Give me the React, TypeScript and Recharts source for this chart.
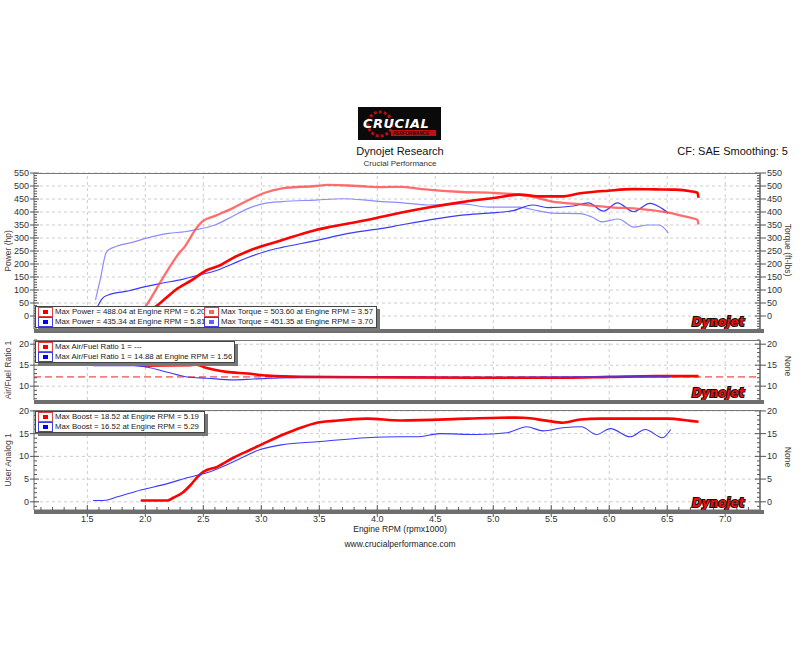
import React from 'react';
import { LineChart, Line, XAxis, YAxis, ReferenceLine } from 'recharts';

const FONT = '"Liberation Sans", Arial, sans-serif';

// engine rpm (x1000) and readings, red = run 1, blue = run 2
const redPowerRpm = [1.97, 2.09, 2.18, 2.26, 2.40, 2.52, 2.65, 2.75, 2.89, 3.03, 3.18, 3.33, 3.47, 3.61, 3.75, 3.90, 4.04, 4.20, 4.44, 4.73, 5.02, 5.22, 5.42, 5.59, 5.75, 5.99, 6.20, 6.40, 6.57, 6.70, 6.76, 6.77];
const redPowerHp = [0, 36, 70, 100, 138, 174, 196, 222, 250, 272, 292, 313, 331, 344, 356, 368, 382, 397, 417, 438, 455, 467, 460, 460, 472, 482, 488, 487, 486, 480, 474, 455];

const redTorqueRpm = [1.95, 2.00, 2.14, 2.29, 2.34, 2.43, 2.49, 2.60, 2.75, 2.89, 3.03, 3.18, 3.47, 3.57, 3.75, 3.90, 4.04, 4.20, 4.39, 4.73, 5.02, 5.30, 5.51, 5.71, 5.99, 6.28, 6.51, 6.68, 6.76, 6.77];
const redTorqueFt = [10, 36, 138, 241, 267, 331, 363, 385, 414, 446, 474, 491, 500, 504, 502, 498, 496, 497, 488, 477, 473, 462, 440, 431, 419, 411, 398, 380, 370, 352];

const bluePowerRpm = [1.57, 1.63, 1.68, 1.86, 2.00, 2.14, 2.32, 2.43, 2.60, 2.75, 2.89, 3.05, 3.18, 3.47, 3.75, 4.04, 4.20, 4.44, 4.73, 4.96, 5.16, 5.34, 5.47, 5.69, 5.82, 5.95, 6.07, 6.21, 6.35, 6.46, 6.51];
const bluePowerHp = [20, 68, 81, 97, 113, 126, 141, 154, 173, 200, 226, 250, 264, 290, 318, 337, 350, 369, 388, 396, 404, 427, 417, 423, 435, 403, 435, 401, 433, 412, 396];

const blueTorqueRpm = [1.57, 1.61, 1.66, 1.68, 1.91, 2.06, 2.20, 2.34, 2.43, 2.60, 2.75, 2.89, 3.03, 3.18, 3.47, 3.70, 3.90, 4.04, 4.20, 4.44, 4.73, 4.96, 5.22, 5.39, 5.51, 5.75, 5.85, 5.94, 6.08, 6.21, 6.33, 6.43, 6.51];
const blueTorqueFt = [62, 138, 241, 254, 286, 305, 318, 324, 331, 350, 383, 414, 433, 440, 446, 451, 446, 440, 436, 427, 431, 419, 419, 404, 396, 394, 381, 362, 373, 342, 350, 350, 319];

const redAfrRpm = [1.96, 2.36, 2.44, 2.53, 2.70, 2.88, 3.05, 3.34, 4.20, 5.00, 5.60, 6.00, 6.40, 6.77];
const redAfr = [14.9, 15.0, 15.1, 14.3, 13.4, 13.0, 12.5, 12.2, 12.1, 12.0, 12.0, 12.2, 12.4, 12.4];
const blueAfrRpm = [1.55, 1.90, 2.02, 2.19, 2.36, 2.53, 2.76, 2.93, 3.10, 3.34, 4.20, 5.00, 5.80, 6.53];
const blueAfr = [14.9, 14.9, 14.5, 13.3, 12.2, 11.9, 11.5, 11.7, 11.9, 12.1, 12.1, 12.1, 12.2, 12.2];
const afrTarget = 12.2;

const redBoostRpm = [1.96, 2.19, 2.24, 2.32, 2.39, 2.45, 2.50, 2.62, 2.76, 2.91, 3.05, 3.19, 3.34, 3.48, 3.62, 3.91, 4.20, 4.78, 5.06, 5.19, 5.26, 5.47, 5.60, 5.75, 5.92, 6.50, 6.70, 6.77];
const redBoost = [0.3, 0.3, 0.9, 2.0, 3.7, 5.5, 6.6, 7.7, 9.7, 11.5, 13.2, 14.8, 16.3, 17.4, 17.8, 18.3, 17.9, 18.3, 18.5, 18.52, 18.5, 17.8, 17.4, 18.1, 18.3, 18.3, 17.8, 17.6];
const blueBoostRpm = [1.55, 1.64, 1.76, 1.96, 2.19, 2.36, 2.53, 2.76, 2.99, 3.19, 3.48, 3.91, 4.20, 4.34, 4.54, 4.86, 5.12, 5.29, 5.43, 5.60, 5.76, 5.89, 6.01, 6.18, 6.31, 6.46, 6.53];
const blueBoost = [0.3, 0.3, 1.1, 2.6, 4.0, 5.3, 6.4, 8.8, 11.5, 12.6, 13.2, 14.1, 14.3, 14.3, 15.0, 14.8, 15.2, 16.5, 15.6, 16.3, 16.5, 14.8, 16.1, 14.3, 15.9, 14.1, 15.9];

const xMajor = [1.5, 2.0, 2.5, 3.0, 3.5, 4.0, 4.5, 5.0, 5.5, 6.0, 6.5, 7.0];
const powerMajor = [0, 50, 100, 150, 200, 250, 300, 350, 400, 450, 500, 550];
const afrMajor = [10, 15, 20];
const boostMajor = [0, 5, 10, 15, 20];

const xDomain = [1.04, 7.3];
const PAD = 7; // room for edge tick labels

const zip = (xs: number[], ys: number[]) => xs.map((rpm, i) => ({ rpm, v: ys[i] }));
const steps = (from: number, to: number, step: number) => {
  const out: number[] = [];
  for (let v = from; v <= to + 1e-9; v += step) out.push(Math.round(v * 100) / 100);
  return out;
};
const isMajor = (v: number, majors: number[]) => majors.some((m) => Math.abs(m - v) < 1e-6);

function LeftTick({ x, y, payload, majors }: any) {
  const v = payload.value;
  const major = isMajor(v, majors);
  return (
    <g>
      <line x1={major ? x - 4 : x} x2={x + (major ? 5 : 3)} y1={y} y2={y} stroke="#555" />
      {major && (
        <text x={x - 5} y={y + 3} textAnchor="end" fontSize={9} fill="#333" fontFamily={FONT}>{v}</text>
      )}
    </g>
  );
}

function RightTick({ x, y, payload, majors }: any) {
  const v = payload.value;
  const major = isMajor(v, majors);
  return (
    <g>
      <line x1={x - (major ? 5 : 3)} x2={major ? x + 6 : x} y1={y} y2={y} stroke="#555" />
      {major && (
        <text x={x + 7} y={y + 3} textAnchor="start" fontSize={9} fill="#333" fontFamily={FONT}>{v}</text>
      )}
    </g>
  );
}

function BottomTick({ x, y, payload }: any) {
  const v = payload.value;
  const major = isMajor(v, xMajor);
  return (
    <g>
      <line x1={x} x2={x} y1={y - (major ? 5 : 3)} y2={major ? y + 7 : y} stroke="#555" />
      {major && (
        <text x={x} y={y + 12} textAnchor="middle" fontSize={9} fill="#333" fontFamily={FONT}>{v.toFixed(1)}</text>
      )}
    </g>
  );
}

type Series = { data: { rpm: number; v: number }[]; color: string; width: number; opacity?: number };

function Panel({ top, plotHeight, domain, ticks, majors, lines, showX, target }: {
  top: number; plotHeight: number; domain: number[]; ticks: number[]; majors: number[];
  lines: Series[]; showX?: boolean; target?: number;
}) {
  const axisH = showX ? 16 : 0;
  const h = plotHeight + axisH + PAD * 2;
  return (
    <>
      <div style={{ position: 'absolute', left: 0, top: top - PAD, width: 800, height: h }}>
        <LineChart width={800} height={h} margin={{ top: PAD, right: 0, bottom: PAD, left: 0 }}>
          {showX ? (
            <XAxis type="number" dataKey="rpm" domain={xDomain} allowDataOverflow height={axisH}
              ticks={steps(1.1, 7.2, 0.1)} interval={0} tickLine={false} tickSize={0} tickMargin={0}
              axisLine={{ stroke: '#777' }} tick={(p: any) => <BottomTick {...p} />} />
          ) : (
            <XAxis type="number" dataKey="rpm" domain={xDomain} allowDataOverflow hide />
          )}
          <YAxis yAxisId="l" type="number" domain={domain} allowDataOverflow width={34} ticks={ticks}
            interval={0} tickLine={false} tickSize={0} tickMargin={0} axisLine={{ stroke: '#666' }}
            tick={(p: any) => <LeftTick {...p} majors={majors} />} />
          <YAxis yAxisId="r" orientation="right" type="number" domain={domain} allowDataOverflow width={40}
            ticks={ticks} interval={0} tickLine={false} tickSize={0} tickMargin={0}
            axisLine={{ stroke: '#888', strokeWidth: 2 }}
            tick={(p: any) => <RightTick {...p} majors={majors} />} />
          {majors.map((m) => (
            <ReferenceLine key={'h' + m} yAxisId="l" y={m} stroke="#cdcdcd" strokeDasharray="3 3" />
          ))}
          {xMajor.map((m) => (
            <ReferenceLine key={'v' + m} yAxisId="l" x={m} stroke="#cdcdcd" strokeDasharray="3 3" />
          ))}
          {target !== undefined && (
            <ReferenceLine yAxisId="l" y={target} stroke="#e82020" strokeDasharray="7 4" />
          )}
          {lines.map((s, i) => (
            <Line key={i} yAxisId="l" data={s.data} dataKey="v" type="monotone" stroke={s.color}
              strokeWidth={s.width} strokeOpacity={s.opacity ?? 1} dot={false} activeDot={false}
              isAnimationActive={false} />
          ))}
        </LineChart>
      </div>
      <div style={{ position: 'absolute', left: 34, top, width: 726, height: 0, borderTop: '1px solid #777' }} />
      <div style={{ position: 'absolute', left: 34, top: top + plotHeight, width: 730, height: 4, background: '#6e6e6e' }} />
      <DynojetMark left={690} top={top + plotHeight - 14} />
    </>
  );
}

function DynojetMark({ left, top }: { left: number; top: number }) {
  return (
    <svg style={{ position: 'absolute', left, top }} width={64} height={14}>
      <text x={2} y={11} fontSize={11.5} fontWeight={900} fontStyle="italic" fontFamily='"DejaVu Sans", sans-serif'
        fill="#e81010" stroke="#111" strokeWidth={2} paintOrder="stroke" letterSpacing={0.3}>Dynojet</text>
    </svg>
  );
}

function Swatch({ color, border }: { color: string; border: string }) {
  return (
    <span style={{ display: 'inline-block', width: 13, height: 8, border: `1px solid ${border}`, position: 'relative', marginRight: 2, verticalAlign: 'middle' }}>
      <span style={{ position: 'absolute', left: 4, top: 2, width: 5, height: 4, background: color }} />
    </span>
  );
}

function LegendBox({ left, top, rows, colWidth }: { left: number; top: number; rows: [string, string, string][][]; colWidth: number[] }) {
  return (
    <div style={{ position: 'absolute', left, top, background: '#fff', border: '1px solid #444', boxShadow: '3px 3px 0 #777', padding: '0 2px', fontFamily: FONT, fontSize: 7.8, color: '#222', lineHeight: '10px' }}>
      {rows.map((row, ri) => (
        <div key={ri} style={{ display: 'flex', height: 10 }}>
          {row.map(([color, border, label], ci) => (
            <div key={ci} style={{ width: colWidth[ci], overflow: 'hidden', whiteSpace: 'nowrap' }}>
              <Swatch color={color} border={border} />{label}
            </div>
          ))}
        </div>
      ))}
    </div>
  );
}

function AxisTitle({ x, y, text, rot }: { x: number; y: number; text: string; rot: number }) {
  return (
    <div style={{ position: 'absolute', left: x, top: y, transform: `translate(-50%, -50%) rotate(${rot}deg)`, whiteSpace: 'nowrap', fontFamily: FONT, fontSize: 8.5, color: '#4a4038' }}>
      {text}
    </div>
  );
}

export default function App() {
  const powerLines: Series[] = [
    { data: zip(blueTorqueRpm, blueTorqueFt), color: '#8c8cff', width: 1.2 },
    { data: zip(bluePowerRpm, bluePowerHp), color: '#3a3aff', width: 1.2 },
    { data: zip(redTorqueRpm, redTorqueFt), color: '#ff4a4a', width: 2.3, opacity: 0.8 },
    { data: zip(redPowerRpm, redPowerHp), color: '#ff0000', width: 2.6 },
  ];
  const afrLines: Series[] = [
    { data: zip(redAfrRpm, redAfr), color: '#ff0000', width: 2.6 },
    { data: zip(blueAfrRpm, blueAfr), color: '#3a3aff', width: 1.1 },
  ];
  const boostLines: Series[] = [
    { data: zip(redBoostRpm, redBoost), color: '#ff0000', width: 2.6 },
    { data: zip(blueBoostRpm, blueBoost), color: '#3a3aff', width: 1.1 },
  ];

  return (
    <div style={{ position: 'fixed', left: 0, top: 0, width: 800, height: 650, background: '#fff', fontFamily: FONT, overflow: 'hidden' }}>
      {/* header */}
      <svg style={{ position: 'absolute', left: 358, top: 107 }} width={83} height={33}>
        <rect x={0} y={0} width={83} height={33} fill="#0a0a0a" />
        <circle cx={22} cy={17} r={12} fill="none" stroke="#b01010" strokeWidth={3} strokeDasharray="3 2" />
        <text x={5} y={21} fontSize={13} fontWeight={900} fontStyle="italic" fontFamily='"DejaVu Sans", sans-serif'
          fill="#fff" letterSpacing={0.5}>CRUCIAL</text>
        <rect x={33} y={23} width={45} height={6} fill="#c01010" />
        <text x={35} y={28} fontSize={4.6} fontWeight={700} fontStyle="italic" fill="#111" fontFamily={FONT}>PERFORMANCE</text>
      </svg>
      <div style={{ position: 'absolute', left: 0, width: 800, top: 145, textAlign: 'center', fontSize: 11, color: '#111' }}>Dynojet Research</div>
      <div style={{ position: 'absolute', left: 0, width: 800, top: 159, textAlign: 'center', fontSize: 8, color: '#333' }}>Crucial Performance</div>
      <div style={{ position: 'absolute', right: 12, top: 145, fontSize: 11, color: '#111' }}>CF: SAE Smoothing: 5</div>

      <Panel top={173} plotHeight={156} domain={[-50, 550]} ticks={steps(-50, 550, 10)} majors={powerMajor} lines={powerLines} />
      <Panel top={340} plotHeight={60} domain={[6.7, 21]} ticks={steps(7, 21, 1)} majors={afrMajor} lines={afrLines} target={afrTarget} />
      <Panel top={410} plotHeight={100} domain={[-1.8, 20.2]} ticks={steps(-1, 20, 1)} majors={boostMajor} lines={boostLines} showX />

      <LegendBox left={35} top={306} colWidth={[166, 170]} rows={[
        [['#ee0000', '#e04040', 'Max Power = 488.04 at Engine RPM = 6.20'], ['#ff6060', '#e04040', 'Max Torque = 503.60 at Engine RPM = 3.57']],
        [['#0000ee', '#4040e0', 'Max Power = 435.34 at Engine RPM = 5.81'], ['#6060ff', '#4040e0', 'Max Torque = 451.35 at Engine RPM = 3.70']],
      ]} />
      <LegendBox left={35} top={341} colWidth={[194]} rows={[
        [['#ee0000', '#e04040', 'Max Air/Fuel Ratio 1 = ---']],
        [['#0000ee', '#4040e0', 'Max Air/Fuel Ratio 1 = 14.88 at Engine RPM = 1.56']],
      ]} />
      <LegendBox left={35} top={411} colWidth={[164]} rows={[
        [['#ee0000', '#e04040', 'Max Boost = 18.52 at Engine RPM = 5.19']],
        [['#0000ee', '#4040e0', 'Max Boost = 16.52 at Engine RPM = 5.29']],
      ]} />

      <AxisTitle x={8} y={251} text="Power (hp)" rot={-90} />
      <AxisTitle x={788} y={250} text="Torque (ft-lbs)" rot={90} />
      <AxisTitle x={8} y={370} text="Air/Fuel Ratio 1" rot={-90} />
      <AxisTitle x={788} y={366} text="None" rot={90} />
      <AxisTitle x={8} y={460} text="User Analog 1" rot={-90} />
      <AxisTitle x={788} y={457} text="None" rot={90} />

      <div style={{ position: 'absolute', left: 0, width: 800, top: 524, textAlign: 'center', fontSize: 8.5, color: '#222' }}>Engine RPM (rpmx1000)</div>
      <div style={{ position: 'absolute', left: 0, width: 800, top: 539, textAlign: 'center', fontSize: 8.5, color: '#222' }}>www.crucialperformance.com</div>
    </div>
  );
}
